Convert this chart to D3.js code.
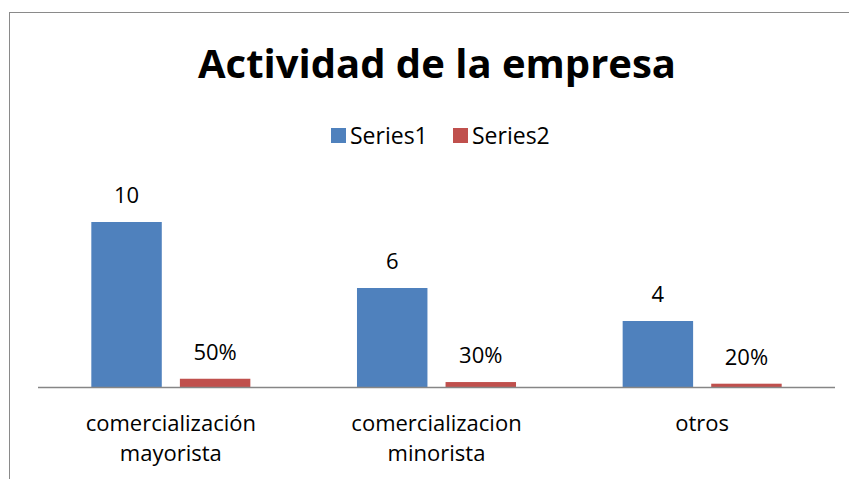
<!DOCTYPE html>
<html>
<head>
<meta charset="utf-8">
<script src="https://cdn.jsdelivr.net/npm/d3@7"></script>
<style>
  body { margin: 0; background: #fff; }
  text { font-family: "Open Sans", sans-serif; fill: #000; }
</style>
</head>
<body>
<svg id="chart"></svg>
<script>
// chart data
var categories = [["comercialización", "mayorista"], ["comercializacion", "minorista"], ["otros"]];
var seriesNames = ["Series1", "Series2"];
var series1 = [10, 6, 4];
var series2 = [0.5, 0.3, 0.2];
var series2Labels = ["50%", "30%", "20%"];

var colours = ["#4F81BD", "#C0504D"];

var W = 849, H = 479;
var margin = {top: 189, right: 14, bottom: 92, left: 38},
    width = W - margin.left - margin.right,
    height = H - margin.top - margin.bottom;

var svg = d3.select("#chart")
    .attr("width", W)
    .attr("height", H);

// chart border (only top and left visible in the picture)
svg.append("rect")
    .attr("x", 9.5).attr("y", 12.5)
    .attr("width", 900).attr("height", 600)
    .attr("fill", "none")
    .attr("stroke", "#8a8a8a")
    .attr("stroke-width", 1);

var g = svg.append("g")
    .attr("transform", "translate(" + margin.left + "," + margin.top + ")");

var keys = categories.map(function(c) { return c.join(" "); });

var x0 = d3.scaleBand().domain(keys).range([0, width]).padding(0);
var x1 = d3.scaleBand().domain(seriesNames).range([0, x0.bandwidth()])
    .paddingInner(0.2045).paddingOuter(0.602);
var y = d3.scaleLinear().domain([0, 12]).range([height, 0]);

var data = keys.map(function(k, i) {
  return {key: k, lines: categories[i], values: [
    {s: seriesNames[0], v: series1[i], label: String(series1[i])},
    {s: seriesNames[1], v: series2[i], label: series2Labels[i]}
  ]};
});

var groups = g.selectAll(".grp")
    .data(data)
    .enter().append("g")
    .attr("class", "grp")
    .attr("transform", function(d) { return "translate(" + x0(d.key) + ",0)"; });

groups.selectAll("rect")
    .data(function(d) { return d.values; })
    .enter().append("rect")
    .attr("x", function(d) { return x1(d.s); })
    .attr("y", function(d) { return y(d.v); })
    .attr("width", x1.bandwidth())
    .attr("height", function(d) { return height - y(d.v); })
    .attr("fill", function(d, i) { return colours[i]; });

// data labels
groups.selectAll(".lbl")
    .data(function(d) { return d.values; })
    .enter().append("text")
    .attr("class", "lbl")
    .attr("x", function(d) { return x1(d.s) + x1.bandwidth() / 2; })
    .attr("y", function(d) { return y(d.v) - 19; })
    .attr("text-anchor", "middle")
    .style("font-size", "22px")
    .text(function(d) { return d.label; });

// x axis line
g.append("line")
    .attr("x1", 0).attr("x2", width)
    .attr("y1", height + 0.5).attr("y2", height + 0.5)
    .attr("stroke", "#868686")
    .attr("stroke-width", 1.5);

// category labels, one text per line
groups.each(function(d) {
  var grp = d3.select(this);
  d.lines.forEach(function(line, j) {
    grp.append("text")
        .attr("text-anchor", "middle")
        .attr("x", x0.bandwidth() / 2)
        .attr("y", height + 44 + j * 30)
        .style("font-size", "22px")
        .text(line);
  });
});

// title
svg.append("text")
    .attr("x", 437)
    .attr("y", 78)
    .attr("text-anchor", "middle")
    .style("font-size", "40px")
    .style("font-weight", "bold")
    .text("Actividad de la empresa");

// legend
var legend = svg.append("g").attr("transform", "translate(331,128)");
var lx = [0, 122];
seriesNames.forEach(function(name, i) {
  legend.append("rect")
      .attr("x", lx[i]).attr("y", 0)
      .attr("width", 15).attr("height", 15)
      .attr("fill", colours[i]);
  legend.append("text")
      .attr("x", lx[i] + 19)
      .attr("y", 15.5)
      .style("font-size", "23px")
      .text(name);
});
</script>
</body>
</html>
